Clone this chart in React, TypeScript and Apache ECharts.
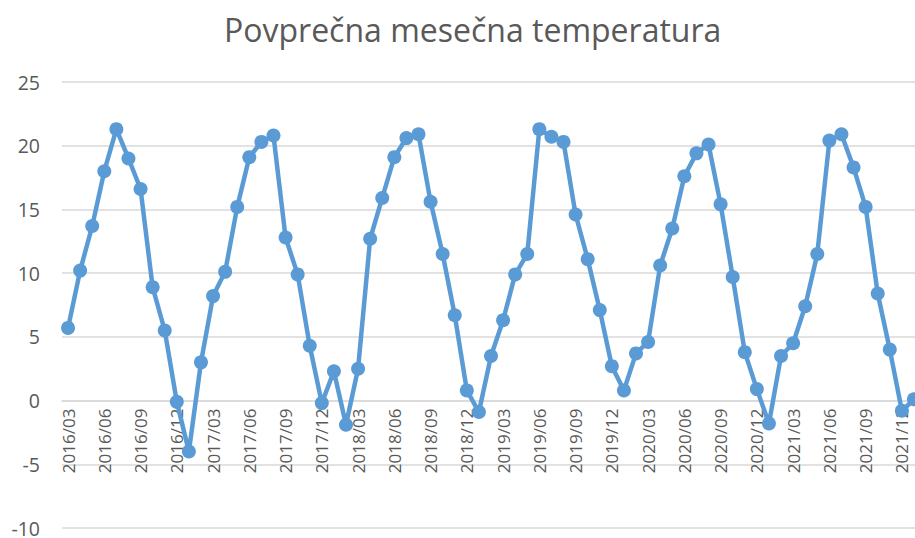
import React, { useEffect, useRef } from "react";
import * as echarts from "echarts";

const TITLE = "Povprečna mesečna temperatura";

const months: string[] = [
  "2016/03", "2016/04", "2016/05", "2016/06", "2016/07", "2016/08", "2016/09", "2016/10", "2016/11", "2016/12",
  "2017/01", "2017/02", "2017/03", "2017/04", "2017/05", "2017/06", "2017/07", "2017/08", "2017/09", "2017/10", "2017/11", "2017/12",
  "2018/01", "2018/02", "2018/03", "2018/04", "2018/05", "2018/06", "2018/07", "2018/08", "2018/09", "2018/10", "2018/11", "2018/12",
  "2019/01", "2019/02", "2019/03", "2019/04", "2019/05", "2019/06", "2019/07", "2019/08", "2019/09", "2019/10", "2019/11", "2019/12",
  "2020/01", "2020/02", "2020/03", "2020/04", "2020/05", "2020/06", "2020/07", "2020/08", "2020/09", "2020/10", "2020/11", "2020/12",
  "2021/01", "2021/02", "2021/03", "2021/04", "2021/05", "2021/06", "2021/07", "2021/08", "2021/09", "2021/10", "2021/11", "2021/12",
  "2022/01",
];

const temps2016: number[] = [5.7, 10.2, 13.7, 18.0, 21.3, 19.0, 16.6, 8.9, 5.5, -0.1];
const temps2017: number[] = [-4.0, 3.0, 8.2, 10.1, 15.2, 19.1, 20.3, 20.8, 12.8, 9.9, 4.3, -0.2];
const temps2018: number[] = [2.3, -1.9, 2.5, 12.7, 15.9, 19.1, 20.6, 20.9, 15.6, 11.5, 6.7, 0.8];
const temps2019: number[] = [-0.9, 3.5, 6.3, 9.9, 11.5, 21.3, 20.7, 20.3, 14.6, 11.1, 7.1, 2.7];
const temps2020: number[] = [0.8, 3.7, 4.6, 10.6, 13.5, 17.6, 19.4, 20.1, 15.4, 9.7, 3.8, 0.9];
const temps2021: number[] = [-1.8, 3.5, 4.5, 7.4, 11.5, 20.4, 20.9, 18.3, 15.2, 8.4, 4.0, -0.8];
const temps2022: number[] = [0.1];

const temperatures: number[] = [
  ...temps2016, ...temps2017, ...temps2018, ...temps2019, ...temps2020, ...temps2021, ...temps2022,
];

const Y_MIN = -10;
const Y_MAX = 25;
const Y_STEP = 5;

const GRID_TOP = 82;
const GRID_BOTTOM = 10;
const CHART_H = 538;

export default function App() {
  const ref = useRef<HTMLDivElement>(null);

  useEffect(() => {
    if (!ref.current) return;
    const chart = echarts.init(ref.current, undefined, { renderer: "svg" });
    const font = "'Open Sans', 'Noto Sans', sans-serif";
    // distance from the bottom edge of the plot (Y_MIN) to the zero line
    const plotH = CHART_H - GRID_TOP - GRID_BOTTOM;
    const zeroOffset = -((0 - Y_MIN) / (Y_MAX - Y_MIN)) * plotH;
    chart.setOption({
      animation: false,
      backgroundColor: "#ffffff",
      title: {
        text: TITLE,
        left: 219,
        top: 8,
        textStyle: { fontFamily: font, fontSize: 32, fontWeight: "normal", color: "#595959" },
      },
      grid: { left: 62, right: -5, top: GRID_TOP, bottom: GRID_BOTTOM, containLabel: false, outerBoundsMode: "none" },
      xAxis: {
        type: "category",
        data: months,
        boundaryGap: true,
        position: "bottom",
        offset: zeroOffset,
        axisLine: { onZero: false, lineStyle: { color: "#d9d9d9", width: 1.5 } },
        axisTick: { show: false },
        axisLabel: {
          interval: 2,
          rotate: 90,
          margin: 8,
          fontFamily: font,
          fontSize: 17,
          color: "#595959",
        },
        splitLine: { show: false },
      },
      yAxis: {
        type: "value",
        min: Y_MIN,
        max: Y_MAX,
        interval: Y_STEP,
        axisLine: { show: false },
        axisTick: { show: false },
        axisLabel: { fontFamily: font, fontSize: 19.5, lineHeight: 16, color: "#595959", margin: 22 },
        splitLine: { lineStyle: { color: "#d9d9d9", width: 1.5 } },
      },
      series: [
        {
          type: "line",
          data: temperatures,
          symbol: "circle",
          symbolSize: 14,
          showSymbol: true,
          showAllSymbol: true,
          lineStyle: { color: "#5B9BD5", width: 4.5, join: "round" },
          itemStyle: { color: "#5B9BD5" },
          z: 3,
        },
      ],
    });
    return () => chart.dispose();
  }, []);

  return (
    <div
      ref={ref}
      style={{ position: "absolute", left: 0, top: 0, width: 915, height: 538, background: "#fff" }}
    />
  );
}
